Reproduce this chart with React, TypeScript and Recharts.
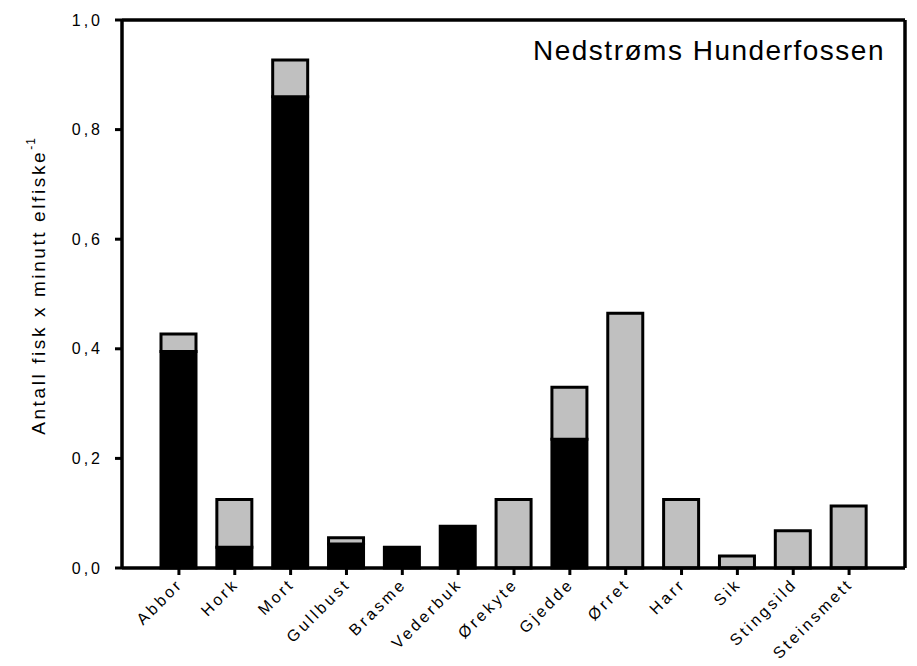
import { BarChart, Bar, XAxis, YAxis } from "recharts";

const species = [
  "Abbor", "Hork", "Mort", "Gullbust", "Brasme", "Vederbuk", "Ørekyte",
  "Gjedde", "Ørret", "Harr", "Sik", "Stingsild", "Steinsmett",
];
const blackPart = [0.395, 0.038, 0.86, 0.044, 0.038, 0.076, 0, 0.235, 0, 0, 0, 0, 0];
const greyPart = [0.032, 0.087, 0.067, 0.011, 0, 0, 0.125, 0.095, 0.465, 0.125, 0.022, 0.068, 0.113];
const yTicks = [0, 0.2, 0.4, 0.6, 0.8, 1.0];

const data = species.map((name, i) => ({ name, black: blackPart[i], grey: greyPart[i] }));

const font = "'Liberation Sans', Arial, sans-serif";

const XTick = (props: any) => {
  const { x, y, payload } = props;
  return (
    <text
      x={x + 5}
      y={y + 8}
      transform={`rotate(-45, ${x + 5}, ${y + 8})`}
      textAnchor="end"
      fontSize={16}
      letterSpacing={3}
      fontFamily={font}
      fill="#000"
    >
      {payload.value}
    </text>
  );
};

const YLabel = (props: any) => {
  const { viewBox } = props;
  const cy = viewBox.y + viewBox.height / 2 - 8;
  const cx = 38;
  return (
    <text
      x={cx}
      y={cy}
      transform={`rotate(-90, ${cx}, ${cy})`}
      textAnchor="middle"
      dominantBaseline="central"
      fontSize={19}
      letterSpacing={2.6}
      fontFamily={font}
      fill="#000"
    >
      Antall fisk x minutt elfiske
      <tspan dy={-7} fontSize={12} letterSpacing={1}>-1</tspan>
    </text>
  );
};

export default function App() {
  return (
    <div style={{ position: "absolute", left: 0, top: 0, width: 917, height: 666, background: "#fff" }}>
      <BarChart
        width={917}
        height={666}
        data={data}
        margin={{ top: 19, right: 11, left: 0, bottom: 0 }}
      >
        <XAxis
          dataKey="name"
          interval={0}
          height={98}
          padding={{ left: 29, right: 28 }}
          axisLine={{ stroke: "#000", strokeWidth: 3.5 }}
          tickLine={{ stroke: "#000", strokeWidth: 3 }}
          tickSize={7}
          tick={<XTick />}
        />
        <XAxis
          xAxisId="top"
          orientation="top"
          dataKey="name"
          height={1}
          padding={{ left: 29, right: 28 }}
          tick={false}
          tickLine={false}
          axisLine={{ stroke: "#000", strokeWidth: 3.5 }}
        />
        <YAxis
          width={122}
          domain={[0, 1]}
          ticks={yTicks}
          tickSize={7}
          tickMargin={12}
          axisLine={{ stroke: "#000", strokeWidth: 3.5 }}
          tickLine={{ stroke: "#000", strokeWidth: 3 }}
          tick={{ fill: "#000", fontSize: 16, fontFamily: font, letterSpacing: 3 }}
          tickFormatter={(v: number) => v.toFixed(1).replace(".", ",")}
          label={<YLabel />}
        />
        <YAxis
          yAxisId="right"
          orientation="right"
          width={1}
          domain={[0, 1]}
          tick={false}
          tickLine={false}
          axisLine={{ stroke: "#000", strokeWidth: 3.5 }}
        />
        <Bar dataKey="black" stackId="a" barSize={35} fill="#000" stroke="#000" strokeWidth={3} isAnimationActive={false} />
        <Bar dataKey="grey" stackId="a" barSize={35} fill="#C0C0C0" stroke="#000" strokeWidth={3} isAnimationActive={false} />
        <Bar
          dataKey="grey"
          xAxisId="top"
          yAxisId="right"
          barSize={35}
          fill="none"
          stroke="none"
          legendType="none"
          isAnimationActive={false}
        />
      </BarChart>
      <div
        style={{
          position: "absolute",
          left: 533,
          top: 35,
          fontFamily: font,
          fontSize: 28,
          letterSpacing: 1.5,
          color: "#000",
          whiteSpace: "nowrap",
        }}
      >
        Nedstrøms Hunderfossen
      </div>
    </div>
  );
}
